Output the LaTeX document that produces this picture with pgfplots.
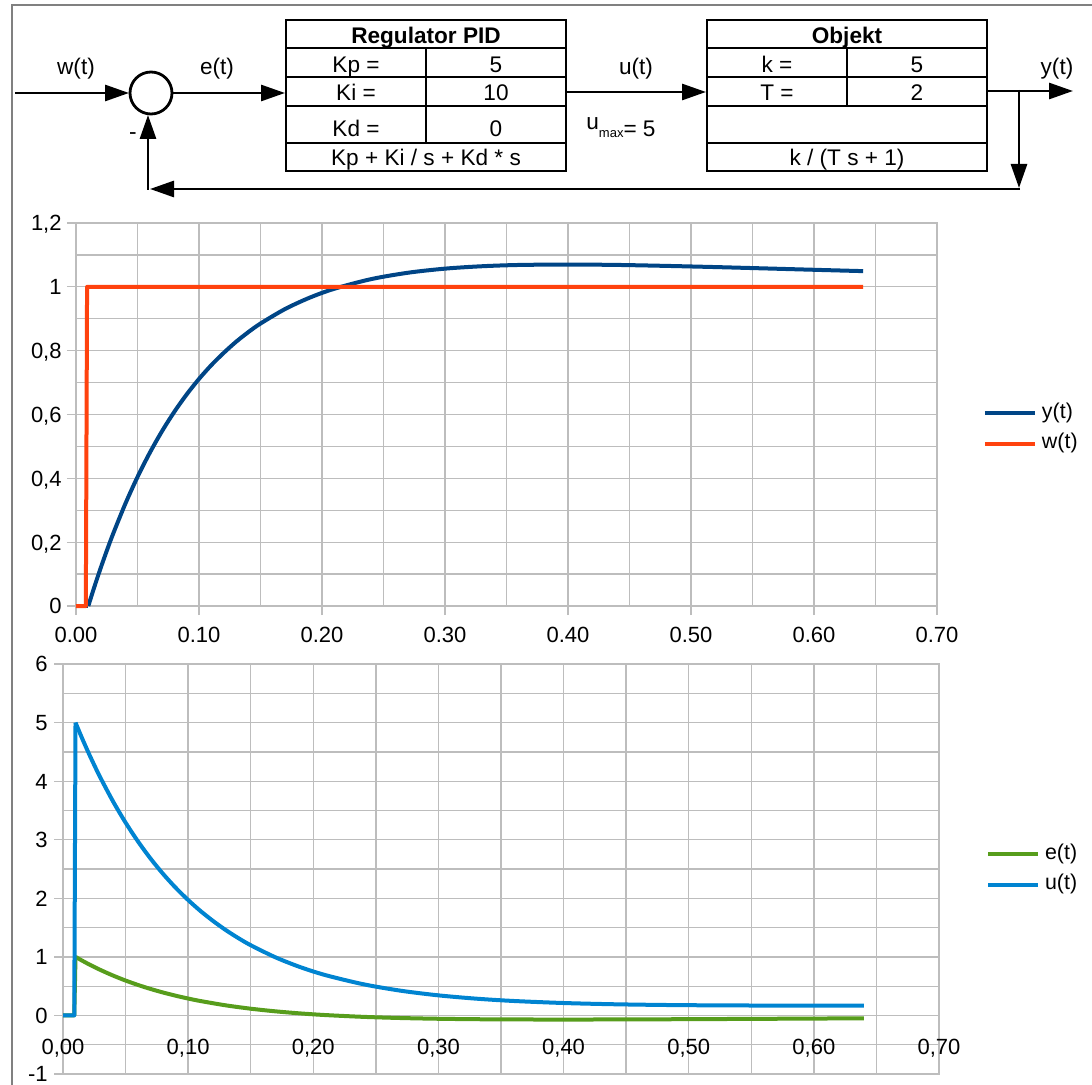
\documentclass[border=0pt]{standalone}
\usepackage{fontspec}
\setmainfont{Liberation Sans}
\usepackage{pgfplots}
\pgfplotsset{compat=1.18}
\usetikzlibrary{arrows.meta}
\definecolor{cy}{HTML}{004586}
\definecolor{cw}{HTML}{FF420E}
\definecolor{ce}{HTML}{579D1C}
\definecolor{cu}{HTML}{0084D1}
\definecolor{gridc}{HTML}{BDBDBD}
\definecolor{framec}{HTML}{808080}
\pgfplotsset{
  mystyle/.style={
    scale only axis, anchor=south west, clip=false,
    grid=both,
    major grid style={draw=gridc, line width=0.65pt},
    minor grid style={draw=gridc, line width=0.65pt},
    axis line style={draw=gridc, line width=0.65pt},
    tick style={draw=gridc, line width=0.65pt},
    major tick length=4.5pt, minor tick length=0pt,
    tick align=outside, tick pos=left,
    ticklabel style={font=\fontsize{11}{13}\selectfont, inner sep=0pt, text height=7.9pt, text depth=0pt},
    legend style={draw=none, fill=none, inner sep=0pt, outer sep=0pt, row sep=3pt,
      font=\fontsize{10.7}{13}\selectfont, anchor=west,
      nodes={inner sep=1pt, inner xsep=2.5pt, text height=7.7pt, text depth=2.6pt}},
    legend cell align=left,
    legend image code/.code={\draw[##1] (0pt,0pt) -- (25pt,0pt);},
    every axis plot/.append style={line width=2pt, line join=round},
  }
}
\begin{document}
\begin{tikzpicture}
\useasboundingbox (0,0) rectangle (546pt,-542.5pt);
\begin{scope}[x=0.5pt,y=-0.5pt,
  lab/.style={font=\fontsize{11.3}{13}\selectfont, inner sep=0pt, text height=8.1pt, text depth=0pt},
  arr/.style={line width=1.4pt, -{Triangle[length=12pt,width=8pt]}},
  tab/.style={line width=1pt}]
  % frame
  \draw[framec, line width=1pt] (12,1090) -- (12,5) -- (1095,5);
  % input
  \draw[arr] (15,93) -- (129,93);
  \draw[line width=1.4pt] (151,93) circle[radius=10.5pt];
  \draw[arr] (172,93) -- (285,93);
  \node[lab] at (76,66) {w(t)};
  \node[lab] at (217,66) {e(t)};
  \node[lab] at (133,131) {-};
  % PID table
  \draw[tab] (286,20) rectangle (566,171);
  \draw[tab] (286,48) -- (566,48) (286,77) -- (566,77) (286,106) -- (566,106) (286,143) -- (566,143);
  \draw[tab] (426,48) -- (426,143);
  \node[lab] at (426,35.5) {\textbf{Regulator PID}};
  \node[lab] at (356,64.5) {Kp =};
  \node[lab] at (496,64.5) {5};
  \node[lab] at (356,92.5) {Ki =};
  \node[lab] at (496,92.5) {10};
  \node[lab] at (356,128.5) {Kd =};
  \node[lab] at (496,128.5) {0};
  \node[lab] at (426,157.5) {Kp + Ki / s + Kd * s};
  % u
  \draw[arr] (567,92) -- (706,92);
  \node[lab] at (636,66) {u(t)};
  \node[font=\fontsize{11.3}{13}\selectfont, inner sep=0pt, anchor=base west] at (586,130)
     {u\raisebox{-4pt}{\fontsize{6.5}{7}\selectfont max}\raisebox{-3.5pt}{= 5}};
  % Objekt table
  \draw[tab] (707,20) rectangle (987,171);
  \draw[tab] (707,48) -- (987,48) (707,77) -- (987,77) (707,106) -- (987,106) (707,143) -- (987,143);
  \draw[tab] (847,48) -- (847,106);
  \node[lab] at (847,35.5) {\textbf{Objekt}};
  \node[lab] at (777,64.5) {k =};
  \node[lab] at (917,64.5) {5};
  \node[lab] at (777,92.5) {T =};
  \node[lab] at (917,92.5) {2};
  \node[lab] at (847,157.5) {k / (T s + 1)};
  % output and feedback
  \draw[arr] (987,91) -- (1073,91);
  \node[lab] at (1057,66) {y(t)};
  \draw[arr] (1019,90) -- (1019,188);
  \draw[arr] (1020,189) -- (150,189);
  \draw[arr] (148,190) -- (148,115);
\end{scope}

\begin{axis}[mystyle, at={(38pt,-303pt)}, width=430.5pt, height=191.5pt,
  xmin=0, xmax=0.7, ymin=0, ymax=1.2,
  xtick={0,0.1,0.2,0.3,0.4,0.5,0.6,0.7},
  xticklabels={0.00,0.10,0.20,0.30,0.40,0.50,0.60,0.70},
  minor xtick={0.05,0.15,0.25,0.35,0.45,0.55,0.65},
  ytick={0,0.2,0.4,0.6,0.8,1,1.2},
  yticklabels={0,{0,2},{0,4},{0,6},{0,8},1,{1,2}},
  minor ytick={0.1,0.3,0.5,0.7,0.9,1.1},
  xticklabel style={anchor=north, yshift=-5.5pt},
  yticklabel style={anchor=east, xshift=-2.5pt},
  legend style={at={(1.0534,0.4634)}},
]
\addplot[cy, smooth] coordinates {(0.01,0) (0.015,0.0608) (0.02,0.1184) (0.025,0.1728) (0.03,0.2244) (0.04,0.3193) (0.05,0.4042) (0.06,0.4801) (0.07,0.5481) (0.08,0.6088) (0.09,0.6630) (0.10,0.7114) (0.11,0.7546) (0.12,0.7927) (0.13,0.8274) (0.14,0.8578) (0.15,0.8850) (0.17,0.9305) (0.19,0.9661) (0.21,0.9939) (0.24,1.0242) (0.27,1.0442) (0.30,1.0570) (0.33,1.0645) (0.36,1.0685) (0.40,1.0699) (0.44,1.0686) (0.48,1.0656) (0.52,1.0619) (0.56,1.0577) (0.60,1.0534) (0.64,1.0492)};
\addlegendentry{y(t)}
\addplot[cy, forget plot] coordinates {(0,0) (0.01,0)};
\addplot[cw] coordinates {(0,0) (0.008,0) (0.009,1) (0.64,1)};
\addlegendentry{w(t)}
\end{axis}

\begin{axis}[mystyle, at={(31.5pt,-537pt)}, width=438pt, height=205pt,
  xmin=0, xmax=0.7, ymin=-1, ymax=6,
  xtick={0,0.1,0.2,0.3,0.4,0.5,0.6,0.7},
  xticklabels={{0,00},{0,10},{0,20},{0,30},{0,40},{0,50},{0,60},{0,70}},
  minor xtick={0.05,0.15,0.25,0.35,0.45,0.55,0.65},
  ytick={-1,0,1,2,3,4,5,6},
  yticklabels={-1,0,1,2,3,4,5,6},
  minor ytick={-0.5,0.5,1.5,2.5,3.5,4.5,5.5},
  xtick style={draw=none},
  xticklabel style={anchor=north, yshift=22.5pt},
  yticklabel style={anchor=east, xshift=-3pt},
  legend style={at={(1.0537,0.4988)}},
]
\addplot[ce, smooth] coordinates {(0.01,1.0) (0.015,0.9392) (0.02,0.8816) (0.025,0.8272) (0.03,0.7757) (0.04,0.6808) (0.05,0.5958) (0.06,0.5199) (0.07,0.4519) (0.08,0.3912) (0.09,0.3370) (0.10,0.2886) (0.11,0.2454) (0.13,0.1726) (0.15,0.1150) (0.17,0.0695) (0.19,0.0339) (0.21,0.0061) (0.24,-0.0242) (0.27,-0.0442) (0.30,-0.0570) (0.33,-0.0645) (0.36,-0.0685) (0.40,-0.0699) (0.44,-0.0686) (0.48,-0.0656) (0.52,-0.0619) (0.56,-0.0577) (0.60,-0.0534) (0.64,-0.0492)};
\addlegendentry{e(t)}
\addplot[ce, forget plot] coordinates {(0,0) (0.009,0) (0.01,1.0)};
\addplot[cu, smooth] coordinates {(0.01,5.0) (0.015,4.7447) (0.02,4.5025) (0.025,4.2728) (0.03,4.0552) (0.04,3.6535) (0.05,3.2926) (0.06,2.9685) (0.07,2.6773) (0.08,2.4159) (0.09,2.1811) (0.10,1.9703) (0.11,1.7811) (0.12,1.6117) (0.13,1.4587) (0.14,1.3219) (0.15,1.1990) (0.17,0.9901) (0.19,0.8220) (0.21,0.6869) (0.24,0.5325) (0.27,0.4219) (0.30,0.3428) (0.33,0.2867) (0.36,0.2470) (0.40,0.2121) (0.44,0.1910) (0.48,0.1787) (0.52,0.1721) (0.56,0.1690) (0.60,0.1681) (0.64,0.1686)};
\addlegendentry{u(t)}
\addplot[cu, forget plot] coordinates {(0,0) (0.009,0) (0.01,5.0)};
\end{axis}
\end{tikzpicture}
\end{document}
